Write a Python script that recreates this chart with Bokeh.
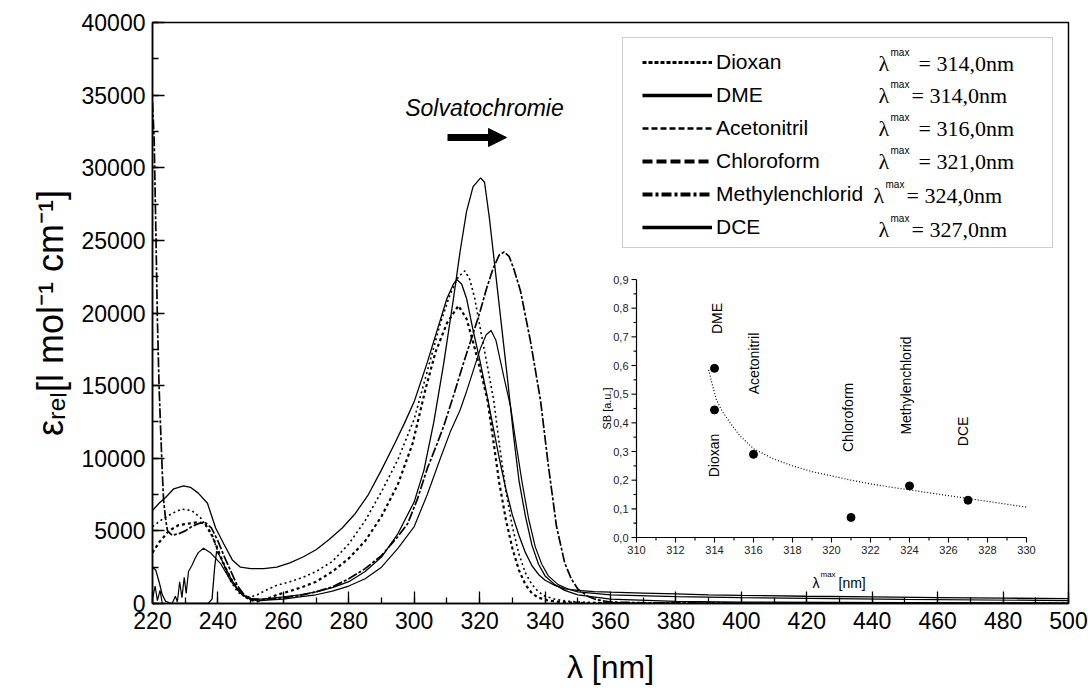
import math
import numpy as np
from bokeh.plotting import figure
from bokeh.models import (Range1d, Label, Arrow, NormalHead, BoxAnnotation, Legend,
                          LegendItem, FixedTicker, BasicTickFormatter)
from bokeh.core.properties import value
from bokeh.embed import file_html
from bokeh.resources import INLINE

# ---------------- data ----------------
x_ticks = list(range(220, 501, 20))
x_minor = list(range(220, 501, 10))
y_ticks = list(range(0, 40001, 5000))
y_minor = list(range(0, 40001, 2500))

dioxan = [(220, 3500), (222, 4200), (225, 5000), (228, 5400), (231, 5500), (234, 5600), (236, 5500),
          (238, 4800), (240, 3700), (242, 2600), (244, 1700), (246, 1000), (248, 500), (250, 250),
          (252, 150), (255, 300), (258, 600), (262, 850), (266, 1150), (270, 1500), (275, 2200),
          (280, 3100), (285, 4300), (290, 6000), (295, 8200), (299.5, 11000), (303.5, 14800),
          (306.5, 17300), (310, 19300), (313.5, 20500), (316, 19600), (318, 18000), (320.3, 16000),
          (322.4, 14000), (324, 11500), (326, 8300), (328, 5800), (330, 3800), (332, 2300),
          (334, 1300), (336, 700), (338, 400), (341, 200), (345, 100), (350, 50), (355, 0),
          (360, 50), (365, 0), (370, 0), (380, 0), (400, 0), (450, 0), (500, 0)]

dme = [(220, 6400), (222, 6900), (224, 7300), (226.5, 7900), (229.5, 8100), (231.6, 8000), (234, 7600),
       (236.8, 6900), (239.3, 5200), (241.8, 4100), (244.4, 3000), (246.9, 2500), (250, 2400),
       (254, 2400), (258, 2500), (262, 2800), (266, 3200), (270, 3700), (274, 4400), (278, 5200),
       (282, 6200), (286, 7500), (290, 9200), (294, 11000), (297, 12400), (300, 13900), (304, 16600),
       (307, 18800), (310, 21000), (312, 22000), (313, 22300), (314.5, 22000), (316, 21000),
       (318, 18800), (320, 16800), (322, 14600), (324, 12300), (326, 10000), (328, 7900), (330, 6100),
       (332, 4700), (334, 3500), (336, 2600), (338, 2000), (340, 1600), (343, 1250), (346, 1000),
       (350, 900), (355, 820), (360, 780), (370, 720), (380, 660), (390, 600), (400, 560), (420, 500),
       (440, 450), (460, 410), (480, 370), (500, 330)]

acetonitril = [(220, 5300), (223, 5800), (226, 6200), (229, 6500), (232, 6400), (234.7, 5900),
               (236.5, 5300), (238.3, 4600), (240, 3600), (242, 2500), (244, 1500), (246, 800),
               (248, 500), (250, 450), (252, 600), (255, 950), (258, 1250), (262, 1500), (266, 1800),
               (270, 2200), (275, 2900), (280, 4100), (285, 5700), (290, 7700), (295, 9900),
               (300, 12700), (304, 16000), (308, 19300), (311, 21300), (313.5, 22500), (315.5, 22900),
               (317, 22300), (318.5, 21000), (320.3, 18800), (322.4, 16300), (324.3, 14000),
               (326, 11000), (328, 7800), (330, 5300), (332, 3400), (334, 2100), (336, 1300),
               (338, 800), (340, 500), (343, 300), (346, 180), (350, 100), (360, 50), (380, 30),
               (400, 10), (450, 0), (500, 0)]

chloroform = [(220, 2500), (221, 2300), (222, 1500), (223, 600), (224, 150), (226, 0), (230, 0),
              (234, 0), (237, 0), (238.2, 300), (239, 2500), (239.6, 3600), (240.5, 3300), (242, 2600),
              (244, 1700), (246, 1000), (248, 550), (250, 350), (253, 300), (256, 350), (260, 450),
              (265, 600), (270, 800), (275, 1100), (280, 1500), (285, 2200), (290, 3200), (295, 4800),
              (300, 7000), (303, 9200), (306, 12500), (309, 16500), (312, 21000), (314, 24200),
              (316, 27000), (318, 28700), (320.3, 29300), (321.5, 29000), (323, 26500), (324.5, 23500),
              (326.4, 19700), (328.5, 15500), (330.4, 11500), (332, 8500), (334, 6000), (336, 4000),
              (338, 2700), (340, 1900), (343, 1300), (346, 900), (350, 600), (360, 300), (380, 150),
              (400, 100), (450, 50), (500, 30)]

methylenchlorid = [(220, 34500), (220.5, 32000), (221, 26000), (221.5, 19500), (222, 15000),
                   (222.4, 12500), (223, 9000), (223.4, 7100), (224, 5800), (224.6, 5000), (226, 4700),
                   (228, 4800), (230, 5000), (232, 5300), (234, 5500), (236, 5600), (238, 5200),
                   (240, 4300), (242, 3200), (244, 2200), (246, 1200), (248, 600), (250, 300),
                   (253, 250), (256, 300), (260, 400), (265, 550), (270, 800), (275, 1150), (280, 1700),
                   (285, 2400), (290, 3300), (295, 4600), (298, 5500), (301, 7200), (304, 9300),
                   (307, 11000), (309, 12200), (312, 14300), (315, 16500), (318, 18600), (320, 20000),
                   (322, 21600), (324, 23000), (326, 24000), (327.5, 24200), (329, 23900),
                   (330.5, 23000), (332.5, 21500), (335.5, 18100), (338.6, 14000), (341, 9500),
                   (343.5, 5300), (346, 2800), (348, 1700), (350, 1000), (353, 500), (356, 250),
                   (360, 100), (370, 50), (400, 20), (450, 0), (500, 0)]

dce = [(220, 300), (220.8, 1200), (221.5, 200), (222.3, 900), (223, 0), (224.5, 0), (226, 0),
       (227, 500), (227.6, 100), (228.3, 1500), (229, 400), (229.7, 1800), (230.3, 700), (231, 2200),
       (232, 2600), (233, 3100), (234, 3500), (235.6, 3800), (237.7, 3500), (240.8, 2750),
       (243.8, 1600), (246.9, 700), (250, 250), (253, 200), (256, 250), (260, 300), (265, 450),
       (270, 600), (275, 850), (280, 1200), (285, 1700), (290, 2500), (295, 3800), (300, 5300),
       (304, 7500), (308, 10000), (311, 11800), (314, 13300), (316, 14600), (318, 16000),
       (320.3, 17600), (322, 18500), (323.5, 18800), (325, 18100), (327.4, 15600), (329.5, 13500),
       (331, 11200), (333, 8300), (335, 5800), (337, 3900), (339, 2700), (341, 1900), (344, 1300),
       (347, 1000), (350, 800), (360, 600), (380, 480), (400, 400), (450, 280), (500, 200)]

solvents = ["Dioxan", "DME", "Acetonitril", "Chloroform", "Methylenchlorid", "DCE"]
lam_max = [314.0, 314.0, 316.0, 321.0, 324.0, 327.0]
sb_value = [0.445, 0.59, 0.29, 0.07, 0.18, 0.13]

fit_x = [313.7, 313.9, 314.1, 314.4, 314.8, 315.3, 316, 317, 318, 319, 320, 321, 322, 323,
         324, 325, 326, 327, 328, 329, 330]
fit_y = [0.585, 0.53, 0.48, 0.44, 0.40, 0.355, 0.31, 0.275, 0.25, 0.23, 0.215, 0.20, 0.187,
         0.176, 0.166, 0.156, 0.146, 0.136, 0.126, 0.116, 0.106]

inset_x_ticks = list(range(310, 331, 2))
inset_x_minor = list(range(311, 330, 2))
inset_y_ticks = [i / 10 for i in range(10)]
inset_y_minor = [i / 10 + 0.05 for i in range(9)]

# ---------------- geometry helpers ----------------
FL, FR, FT, FB = 152, 1068, 22, 603
W, H = 1088, 693
X0, X1, Y0, Y1 = 220, 500, 0, 40000


def sx(px):
    return X0 + (px - FL) * (X1 - X0) / (FR - FL)


def sy(py):
    return Y0 + (FB - py) * (Y1 - Y0) / (FB - FT)


IX0, IX1, IY0, IY1 = 636, 1026, 537, 279
kx = (IX1 - IX0) / 20.0
ky = (IY0 - IY1) / 0.9
ix_range = Range1d(310 - (IX0 - FL) / kx, 330 + (FR - IX1) / kx)
iy_range = Range1d(0 - (FB - IY0) / ky, 0.9 + (IY1 - FT) / ky)

p = figure(width=W, height=H, x_range=Range1d(X0, X1), y_range=Range1d(Y0, Y1),
           output_backend="svg", toolbar_location=None,
           min_border_left=FL, min_border_right=W - FR, min_border_top=FT, min_border_bottom=H - FB)
p.extra_x_ranges = {"ix": ix_range}
p.extra_y_ranges = {"iy": iy_range}
p.xgrid.visible = False
p.ygrid.visible = False
p.outline_line_color = "black"
p.outline_line_width = 1.5
p.background_fill_color = "white"
p.border_fill_color = "white"

FONT = "Liberation Sans"
for ax in (p.xaxis[0], p.yaxis[0]):
    ax.axis_line_color = "black"
    ax.axis_line_width = 1.5
    ax.major_tick_in = 12
    ax.major_tick_out = 0
    ax.minor_tick_in = 6
    ax.minor_tick_out = 0
    ax.major_tick_line_width = 1.3
    ax.minor_tick_line_width = 1.3
    ax.major_label_text_font = FONT
    ax.major_label_text_font_size = "23px"
    ax.major_label_text_color = "black"
    ax.axis_label_text_font = FONT
    ax.axis_label_text_font_style = "normal"
    ax.axis_label_text_color = "black"
p.xaxis.ticker = FixedTicker(ticks=x_ticks, minor_ticks=x_minor)
p.yaxis.ticker = FixedTicker(ticks=y_ticks, minor_ticks=y_minor)
p.yaxis.formatter = BasicTickFormatter(use_scientific=False)
p.xaxis.major_label_standoff = 8
p.yaxis.major_label_standoff = 7
p.xaxis.axis_label = "λ [nm]"
p.xaxis.axis_label_text_font_size = "32px"
p.xaxis.axis_label_standoff = 17
p.yaxis.axis_label = "εᵣₑₗ[l mol⁻¹ cm⁻¹]"
p.yaxis.axis_label_text_font_size = "36px"
p.yaxis.axis_label_standoff = 8

# ---------------- spectra ----------------
series = [
    (dioxan, dict(line_dash="3 3", line_width=2.2)),
    (dme, dict(line_width=1.3)),
    (acetonitril, dict(line_dash="2 3", line_width=1.6)),
    (chloroform, dict(line_width=1.3)),
    (methylenchlorid, dict(line_dash="10 2 3 2", line_width=1.7)),
    (dce, dict(line_width=1.2)),
]
for data, style in series:
    xs = [d[0] for d in data]
    ys = [d[1] for d in data]
    p.line(xs, ys, line_color="black", **style)

# ---------------- legend box ----------------
p.add_layout(BoxAnnotation(left=sx(622), right=sx(1052), top=sy(37), bottom=sy(247),
                           fill_color="white", fill_alpha=1.0, line_color="#555555", line_width=1))

leg_styles = [dict(line_dash="4 2", line_width=3), dict(line_width=3.5),
              dict(line_dash="6 3", line_width=2.5), dict(line_dash="10 4", line_width=4),
              dict(line_dash="10 3 3 3", line_width=4), dict(line_width=3.5)]
items = []
for name, st in zip(solvents, leg_styles):
    r = p.line(np.array([np.nan]), np.array([np.nan]), line_color="black", **st)
    items.append(LegendItem(label=name, renderers=[r]))
legend = Legend(items=items, location=(490, 364), glyph_width=70, glyph_height=20, label_height=20,
                spacing=9, padding=0, margin=0, label_standoff=4, label_text_font=FONT,
                label_text_font_size="21px", label_text_color="black",
                border_line_alpha=0, background_fill_alpha=0)
p.add_layout(legend)

row_py = [62, 94, 127, 160, 194, 228]
lam_px = [878, 878, 878, 878, 873, 878]
eq_px = [918, 911, 918, 918, 906, 911]
for v, rp, lx, ex in zip(lam_max, row_py, lam_px, eq_px):
    base = rp + 1
    p.add_layout(Label(x=sx(lx), y=sy(base), text="λ", text_font="Liberation Serif",
                       text_font_size="22px", text_baseline="alphabetic", text_color="black"))
    p.add_layout(Label(x=sx(lx + 12), y=sy(base - 11), text="max", text_font=FONT,
                       text_font_size="10px", text_baseline="alphabetic", text_color="black"))
    p.add_layout(Label(x=sx(ex), y=sy(base), text="= " + f"{v:.1f}".replace(".", ",") + "nm",
                       text_font="Liberation Serif", text_font_size="22px",
                       text_baseline="alphabetic", text_color="black"))

# ---------------- annotation ----------------
p.add_layout(Label(x=sx(484), y=sy(107), text="Solvatochromie", text_font=FONT,
                   text_font_style="italic", text_font_size="23px", text_align="center",
                   text_baseline="middle", text_color="black"))
p.add_layout(Arrow(end=NormalHead(size=18, fill_color="black", line_color="black"),
                   x_start=sx(447), y_start=sy(137), x_end=sx(506), y_end=sy(137),
                   line_width=7, line_color="black"))

# ---------------- inset ----------------
R = dict(x_range_name="ix", y_range_name="iy")
p.segment(x0=[310], y0=[0], x1=[330], y1=[0], line_color="black", line_width=1.2, **R)
p.segment(x0=[310], y0=[0], x1=[310], y1=[0.9], line_color="black", line_width=1.2, **R)
p.segment(x0=inset_x_ticks, y0=[0] * len(inset_x_ticks), x1=inset_x_ticks,
          y1=[-5 / ky] * len(inset_x_ticks), line_color="black", line_width=1.1, **R)
p.segment(x0=inset_x_minor, y0=[0] * len(inset_x_minor), x1=inset_x_minor,
          y1=[-3 / ky] * len(inset_x_minor), line_color="black", line_width=1.1, **R)
p.segment(x0=[310] * len(inset_y_ticks), y0=inset_y_ticks, x1=[310 - 5 / kx] * len(inset_y_ticks),
          y1=inset_y_ticks, line_color="black", line_width=1.1, **R)
p.segment(x0=[310] * len(inset_y_minor), y0=inset_y_minor, x1=[310 - 3 / kx] * len(inset_y_minor),
          y1=inset_y_minor, line_color="black", line_width=1.1, **R)
p.text(x=inset_x_ticks, y=[0] * len(inset_x_ticks), text=[str(t) for t in inset_x_ticks],
       y_offset=8, text_align="center", text_baseline="top", text_font=value(FONT),
       text_font_size="11px", text_color="#222222", **R)
p.text(x=[310] * len(inset_y_ticks), y=inset_y_ticks,
       text=[f"{t:.1f}".replace(".", ",") for t in inset_y_ticks],
       x_offset=-8, text_align="right", text_baseline="middle", text_font=value(FONT),
       text_font_size="11px", text_color="#222222", **R)

p.line(fit_x, fit_y, line_color="black", line_dash="1 2", line_width=1.2, **R)
p.scatter(lam_max, sb_value, size=8, fill_color="black", line_color="black", **R)

lab_x = [313.95, 314.15, 316.05, 320.85, 323.8, 326.75]
lab_y = [0.286, 0.764, 0.607, 0.419, 0.530, 0.370]
p.text(x=lab_x, y=lab_y, text=solvents, angle=math.pi / 2, text_align="center",
       text_baseline="middle", text_font=value(FONT), text_font_size="14px",
       text_color="black", **R)

p.add_layout(Label(x=sx(606), y=sy(408), text="SB [a.u.]", angle=math.pi / 2, text_font=FONT,
                   text_font_size="11px", text_align="center", text_baseline="middle",
                   text_color="black"))
p.add_layout(Label(x=sx(812), y=sy(582), text="λ", text_font=FONT, text_font_size="14px",
                   text_baseline="alphabetic", text_color="black"))
p.add_layout(Label(x=sx(820), y=sy(574), text="max", text_font=FONT, text_font_size="8px",
                   text_baseline="alphabetic", text_color="black"))
p.add_layout(Label(x=sx(838), y=sy(582), text=" [nm]", text_font=FONT, text_font_size="14px",
                   text_baseline="alphabetic", text_color="black"))

open("out.html", "w").write(file_html(p, INLINE))
